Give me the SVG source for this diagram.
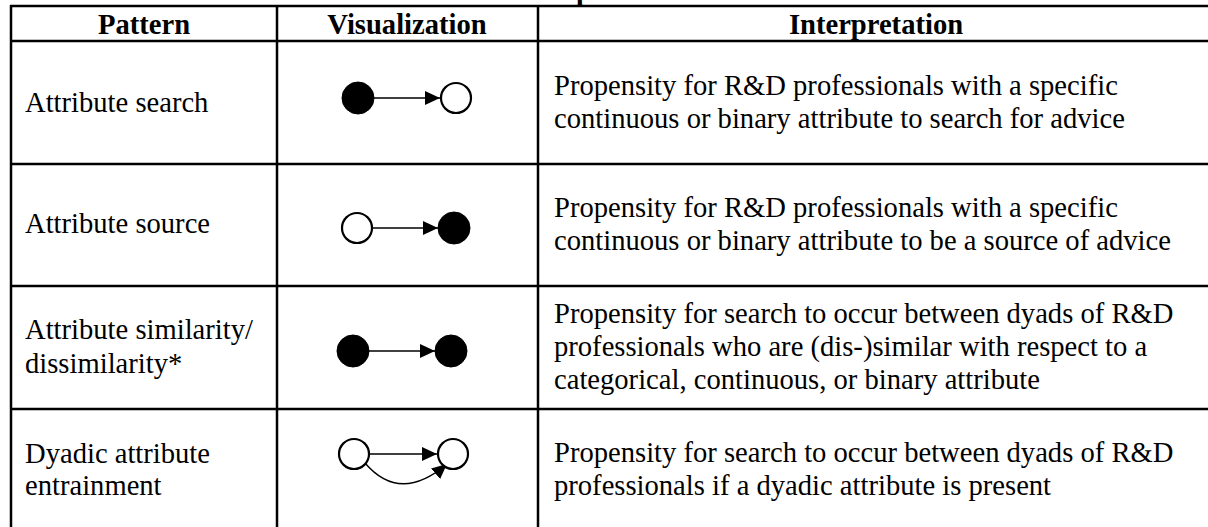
<svg xmlns="http://www.w3.org/2000/svg" width="1208" height="527" viewBox="0 0 1208 527">
<style>
text{font-family:"Liberation Serif","Times New Roman",serif;font-size:28.6px;fill:#000}
.h{font-weight:bold;text-anchor:middle;font-size:28.6px}
.grid line{stroke:#000;stroke-width:2.5}
.edge{stroke:#000;stroke-width:1.4;fill:none}
.open{fill:#fff;stroke:#000;stroke-width:2.2}
.full{fill:#000;stroke:#000;stroke-width:1}
</style>
<defs>
<marker id="ah" markerUnits="userSpaceOnUse" viewBox="0 0 15 14" refX="15" refY="7" markerWidth="15" markerHeight="14" orient="auto">
<path d="M0,0 L15,7 L0,14 z" fill="#000"/>
</marker>
</defs>
<rect width="1208" height="527" fill="#fff"/>
<text class="h" x="584" y="0">p</text>
<g class="grid">
<line x1="10" y1="6" x2="1216" y2="6"/>
<line x1="10" y1="41" x2="1216" y2="41"/>
<line x1="10" y1="164" x2="1216" y2="164"/>
<line x1="10" y1="286" x2="1216" y2="286"/>
<line x1="10" y1="409" x2="1216" y2="409"/>
<line x1="11" y1="5" x2="11" y2="530"/>
<line x1="277" y1="5" x2="277" y2="530"/>
<line x1="538" y1="5" x2="538" y2="530"/>
</g>
<g id="header">
<text class="h" x="144" y="34">Pattern</text>
<text class="h" x="407" y="34">Visualization</text>
<text class="h" x="876" y="34">Interpretation</text>
</g>
<g id="row1">
<text x="25" y="112">Attribute search</text>
<text x="554" y="95">Propensity for R&amp;D professionals with a specific</text>
<text x="554" y="128">continuous or binary attribute to search for advice</text>
</g>
<g id="row2">
<text x="25" y="233">Attribute source</text>
<text x="554" y="217">Propensity for R&amp;D professionals with a specific</text>
<text x="554" y="250">continuous or binary attribute to be a source of advice</text>
</g>
<g id="row3">
<text x="25" y="339">Attribute similarity/</text>
<text x="25" y="373">dissimilarity*</text>
<text x="554" y="323">Propensity for search to occur between dyads of R&amp;D</text>
<text x="554" y="356">professionals who are (dis-)similar with respect to a</text>
<text x="554" y="389">categorical, continuous, or binary attribute</text>
</g>
<g id="row4">
<text x="25" y="463">Dyadic attribute</text>
<text x="25" y="495">entrainment</text>
<text x="554" y="462">Propensity for search to occur between dyads of R&amp;D</text>
<text x="554" y="495">professionals if a dyadic attribute is present</text>
</g>
<g id="connectors">
<line class="edge" x1="374" y1="98" x2="440" y2="98" marker-end="url(#ah)"/>
<line class="edge" x1="373" y1="228" x2="438" y2="228" marker-end="url(#ah)"/>
<line class="edge" x1="369" y1="351" x2="435" y2="351" marker-end="url(#ah)"/>
<line class="edge" x1="370" y1="454" x2="437" y2="454" marker-end="url(#ah)"/>
<path class="edge" d="M365,463 Q400,504 447,464" stroke-width="2" marker-end="url(#ah)"/>
</g>
<g id="n1a"><circle class="full" cx="358" cy="98" r="16"/></g>
<g id="n1b"><circle class="open" cx="456" cy="98" r="15"/></g>
<g id="n2a"><circle class="open" cx="357" cy="228" r="15"/></g>
<g id="n2b"><circle class="full" cx="454" cy="228" r="16"/></g>
<g id="n3a"><circle class="full" cx="353" cy="351" r="16"/></g>
<g id="n3b"><circle class="full" cx="451" cy="351" r="16"/></g>
<g id="n4a"><circle class="open" cx="354" cy="454" r="15"/></g>
<g id="n4b"><circle class="open" cx="453" cy="454" r="15"/></g>
</svg>
